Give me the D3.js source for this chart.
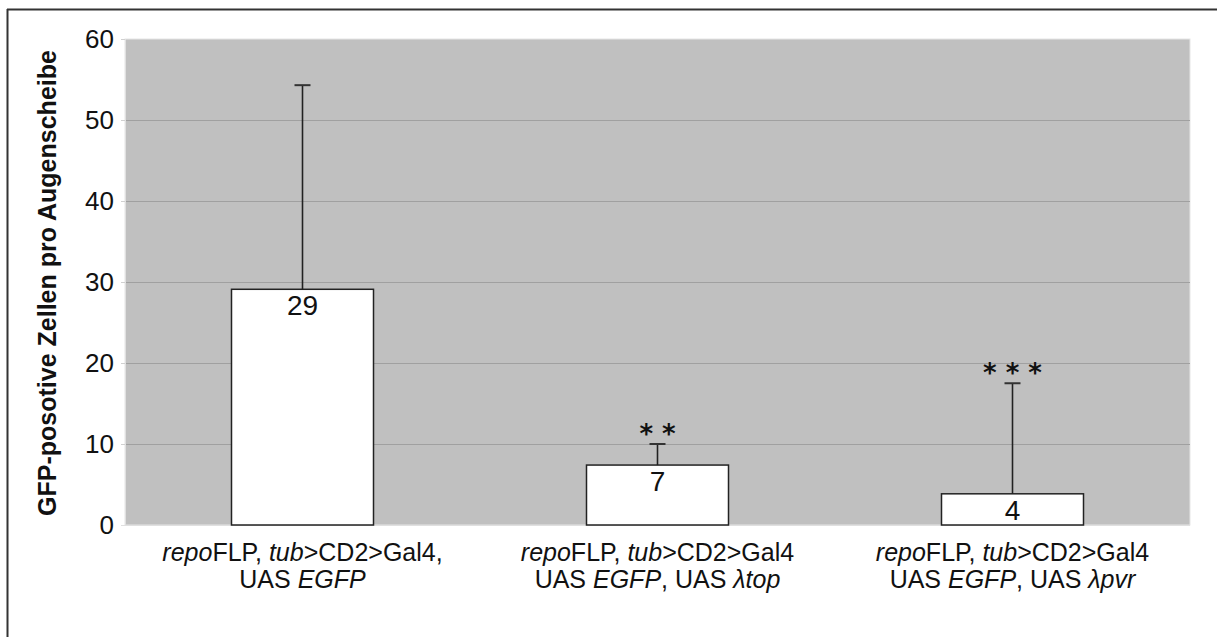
<!DOCTYPE html>
<html>
<head>
<meta charset="utf-8">
<script src="https://cdn.jsdelivr.net/npm/d3@7"></script>
<style>
  html, body { margin: 0; padding: 0; background: #fff; }
  svg { display: block; font-family: "Liberation Sans", Arial, sans-serif; }
</style>
</head>
<body>
<svg id="chart" width="1217" height="637"></svg>
<script>
// Genotype groups (each label line is a list of [text, italic] runs)
const categories = ["g1", "g2", "g3"];
const labelLine1 = [
  [["repo", true], ["FLP, ", false], ["tub", true], [">CD2>Gal4,", false]],
  [["repo", true], ["FLP, ", false], ["tub", true], [">CD2>Gal4", false]],
  [["repo", true], ["FLP, ", false], ["tub", true], [">CD2>Gal4", false]]
];
const labelLine2 = [
  [["UAS ", false], ["EGFP", true]],
  [["UAS ", false], ["EGFP", true], [", UAS ", false], ["\u03bbtop", true]],
  [["UAS ", false], ["EGFP", true], [", UAS ", false], ["\u03bbpvr", true]]
];
// Mean GFP-positive cells per eye disc and upper error bar
const means = [29.1, 7.4, 3.85];
const errorTops = [54.3, 10.0, 17.5];
const valueLabels = ["29", "7", "4"];
const significance = ["", "* *", "* * *"];
const yTicks = [0, 10, 20, 30, 40, 50, 60];
const yTitle = "GFP-posotive Zellen pro Augenscheibe";

const svg = d3.select("#chart");
const plot = { left: 125, right: 1190, top: 39, bottom: 525 };

// Outer frame (top and left edges)
svg.append("line").attr("x1", 7).attr("y1", 9.5).attr("x2", 1217).attr("y2", 9.5)
  .attr("stroke", "#333").attr("stroke-width", 2);
svg.append("line").attr("x1", 7.5).attr("y1", 9).attr("x2", 7.5).attr("y2", 637)
  .attr("stroke", "#333").attr("stroke-width", 2);

const x = d3.scaleBand().domain(categories).range([plot.left, plot.right])
  .paddingInner(0.6).paddingOuter(0.3);
const y = d3.scaleLinear().domain([0, 60]).range([plot.bottom, plot.top]);

// Plot background
svg.append("rect").attr("x", plot.left).attr("y", plot.top)
  .attr("width", plot.right - plot.left).attr("height", plot.bottom - plot.top)
  .attr("fill", "#c0c0c0");
svg.append("rect").attr("x", plot.left).attr("y", plot.top)
  .attr("width", plot.right - plot.left).attr("height", plot.bottom - plot.top)
  .attr("fill", "none").attr("stroke", "#e6e6e6").attr("stroke-width", 1);

// Horizontal gridlines
svg.append("g").selectAll("line").data(yTicks.filter(t => t > 0 && t < 60)).join("line")
  .attr("x1", plot.left).attr("x2", plot.right)
  .attr("y1", d => Math.round(y(d)) + 0.5).attr("y2", d => Math.round(y(d)) + 0.5)
  .attr("stroke", "#a0a0a0").attr("stroke-width", 1);

// Y axis
const yAxis = svg.append("g").attr("transform", `translate(${plot.left},0)`)
  .call(d3.axisLeft(y).tickValues(yTicks).tickSize(4).tickPadding(7));
yAxis.select(".domain").attr("stroke", "#e0e0e0");
yAxis.selectAll(".tick line").attr("stroke", "#d0d0d0");
yAxis.selectAll(".tick text").attr("font-size", 26).attr("fill", "#111")
  .attr("font-family", "Liberation Sans, Arial, sans-serif");

// Bottom axis line
svg.append("line").attr("x1", plot.left - 4).attr("x2", plot.right)
  .attr("y1", plot.bottom + 0.5).attr("y2", plot.bottom + 0.5)
  .attr("stroke", "#e0e0e0").attr("stroke-width", 1);

// Y title
svg.append("text")
  .attr("transform", `translate(56,${(plot.top + plot.bottom) / 2 + 1}) rotate(-90)`)
  .attr("text-anchor", "middle").attr("font-size", 25).attr("font-weight", "bold")
  .attr("fill", "#111").text(yTitle);

// Bars
svg.append("g").selectAll("rect").data(categories).join("rect")
  .attr("x", d => x(d)).attr("width", x.bandwidth())
  .attr("y", (d, i) => y(means[i])).attr("height", (d, i) => y(0) - y(means[i]))
  .attr("fill", "#fff").attr("stroke", "#222").attr("stroke-width", 1.5);

// Error bars, value labels and significance stars
const eb = svg.append("g");
categories.forEach((c, i) => {
  const cx = x(c) + x.bandwidth() / 2;
  eb.append("line").attr("x1", cx).attr("x2", cx)
    .attr("y1", y(means[i])).attr("y2", y(errorTops[i]))
    .attr("stroke", "#222").attr("stroke-width", 1.6);
  eb.append("line").attr("x1", cx - 8).attr("x2", cx + 8)
    .attr("y1", y(errorTops[i])).attr("y2", y(errorTops[i]))
    .attr("stroke", "#333").attr("stroke-width", 2);
  svg.append("text").attr("x", cx).attr("y", y(means[i]) + 26)
    .attr("text-anchor", "middle").attr("font-size", 28).attr("fill", "#111")
    .text(valueLabels[i]);
  if (significance[i]) {
    svg.append("text").attr("x", cx).attr("y", y(errorTops[i]) - 1)
      .attr("text-anchor", "middle").attr("font-size", 26).attr("fill", "#111")
      .attr("font-weight", "bold")
      .attr("font-family", "DejaVu Sans, sans-serif")
      .text(significance[i]);
  }
});

// Category labels
function runs(sel, parts) {
  parts.forEach(([t, it]) => {
    sel.append("tspan").attr("font-style", it ? "italic" : "normal").text(t);
  });
}
categories.forEach((c, i) => {
  const cx = x(c) + x.bandwidth() / 2;
  const t1 = svg.append("text").attr("x", cx).attr("y", 561)
    .attr("text-anchor", "middle").attr("font-size", 25).attr("fill", "#111");
  runs(t1, labelLine1[i]);
  const t2 = svg.append("text").attr("x", cx).attr("y", 588)
    .attr("text-anchor", "middle").attr("font-size", 25).attr("fill", "#111");
  runs(t2, labelLine2[i]);
});
</script>
</body>
</html>
